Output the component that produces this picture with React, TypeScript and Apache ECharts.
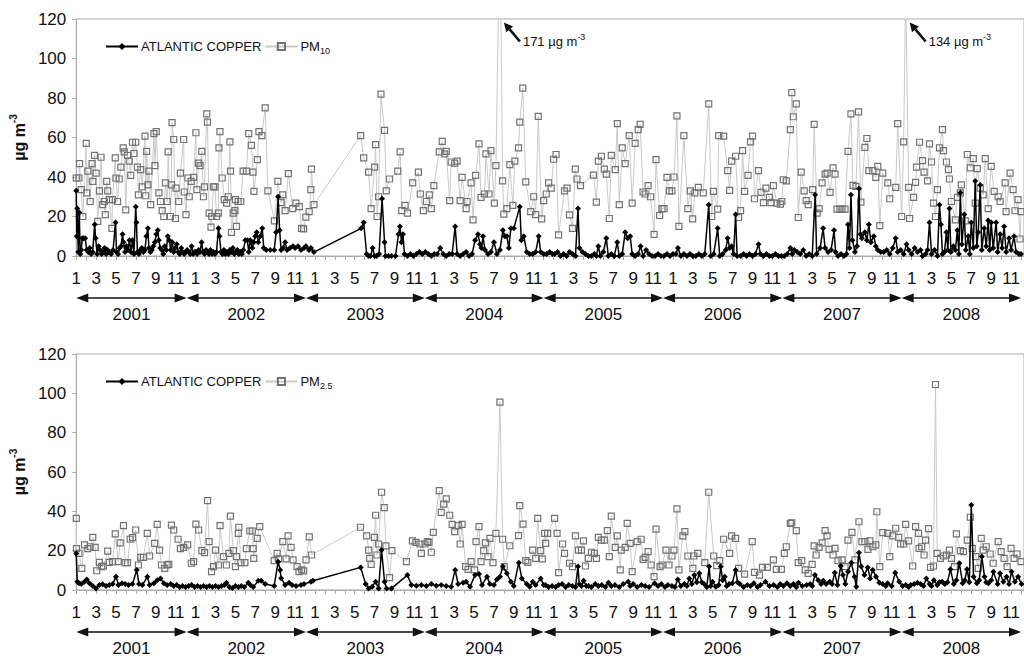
import React, { useEffect, useRef } from "react";
import * as echarts from "echarts";

// x = month index, 0 = January 2001 (fractional = sampling day inside the month)
const pm10: number[][] = [
  [0.0, 39.5], [0.27, 39.5], [0.33, 46.8], [0.5, 33.6], [0.66, 20], [1.0, 57], [1.06, 32], [1.16, 43], [1.4, 27.6], [1.59, 46.8],
  [1.66, 37.8], [1.83, 51], [1.99, 42], [2.16, 17.5], [2.33, 33], [2.49, 50], [2.66, 26], [2.82, 27.6], [2.92, 21], [3.06, 37.8],
  [3.16, 33], [3.32, 28.5], [3.59, 14], [3.65, 28.5], [3.92, 49.7], [3.99, 39.5], [4.15, 27.6], [4.32, 39], [4.49, 45], [4.72, 54.7],
  [4.82, 52.7], [4.98, 23.4], [5.15, 51], [5.32, 48], [5.48, 40.8], [5.65, 57.6], [5.81, 51.9], [5.98, 57.6], [6.15, 45], [6.25, 31],
  [6.48, 43.7], [6.64, 35], [6.91, 60.7], [6.98, 30.5], [7.08, 53], [7.21, 36], [7.31, 43], [7.48, 26], [7.81, 62], [7.91, 45.8],
  [8.04, 63], [8.31, 32], [8.47, 27.6], [8.64, 23], [8.8, 20], [8.97, 37], [9.14, 27.6], [9.24, 52.7], [9.47, 20], [9.57, 36],
  [9.63, 67.5], [9.8, 59], [9.97, 19], [10.03, 34.4], [10.3, 27.6], [10.47, 42], [10.8, 59], [10.86, 32.4], [11.03, 21], [11.23, 39.5],
  [11.36, 30], [11.56, 37.8], [11.79, 39.8], [12.03, 62.4], [12.13, 33.6], [12.29, 47], [12.46, 45.8], [12.62, 53], [12.79, 30], [12.89, 35],
  [13.12, 72], [13.19, 67.8], [13.36, 21.7], [13.55, 14.6], [13.62, 20], [13.79, 35], [13.95, 35], [14.12, 20], [14.29, 21.7], [14.35, 54.7],
  [14.45, 63], [14.68, 39.5], [14.88, 28.5], [15.12, 26.8], [15.28, 30], [15.45, 57.8], [15.51, 43], [15.61, 12], [15.78, 21.7], [15.95, 23],
  [16.01, 28.5], [16.11, 15], [16.28, 27.6], [16.54, 27.6], [16.78, 43], [17.11, 43], [17.34, 62], [17.61, 56], [17.77, 42.5], [17.87, 32.7],
  [18.21, 48.8], [18.37, 63], [18.67, 61], [19.0, 75], [19.27, 33], [19.93, 17.8], [20.27, 37.8], [20.6, 27], [20.76, 31], [21.0, 23],
  [21.33, 41.7], [21.76, 24], [22.09, 26.8], [22.43, 25], [22.66, 14], [22.86, 13.7], [23.09, 19.7], [23.42, 22.5], [23.59, 33.6], [23.65, 44],
  [23.9, 26],
  [28.6, 61], [28.9, 49.7], [29.4, 42.5], [29.65, 24], [30.0, 45], [30.1, 56.4], [30.25, 20], [30.4, 30], [30.64, 82], [31.0, 63.6],
  [31.17, 33], [31.5, 39], [32.33, 43], [32.57, 52.7], [32.73, 23], [33.06, 25.6], [33.3, 21.7], [33.83, 37], [34.4, 42.5], [34.6, 31.4],
  [34.9, 23], [35.2, 27.6], [35.5, 31], [35.7, 24], [35.96, 35.6], [36.5, 52.7], [36.8, 58], [37.05, 51.7], [37.2, 53], [37.55, 28],
  [37.7, 47.6], [38.05, 47], [38.3, 48], [38.6, 28], [38.8, 39.8], [39.2, 24], [39.3, 27.6], [39.7, 37], [39.9, 18.3], [40.15, 40.8],
  [40.5, 56.8], [40.7, 29.7], [41.05, 31.4], [41.2, 51.7], [41.5, 31.4], [41.7, 53.4], [42.04, 26.8], [42.2, 45.8], [42.6, 171], [42.87, 38],
  [43.0, 21.2], [43.3, 24], [43.6, 46.3], [43.9, 25.6], [44.1, 48], [44.47, 54.7], [44.6, 67.8], [44.9, 85], [45.2, 37.5], [45.7, 22.5],
  [46.0, 30], [46.2, 21], [46.46, 70.7], [46.8, 18.8], [47.0, 28], [47.26, 31.4], [47.5, 37], [47.76, 34.4], [48.0, 49], [48.25, 51.4],
  [48.5, 10.7], [49.1, 33], [49.35, 34.4], [49.6, 20.8], [49.9, 14], [50.18, 44], [50.35, 39], [50.7, 35.6], [52.0, 41], [52.3, 27.3],
  [52.5, 48], [52.8, 50.5], [53.1, 44], [53.3, 41.5], [53.6, 19], [53.8, 51], [54.2, 43.7], [54.4, 67], [54.6, 26], [54.9, 54.7],
  [55.2, 46.8], [55.6, 61], [55.9, 26.8], [56.2, 57], [56.5, 64], [56.7, 66.6], [56.99, 32.4], [57.2, 31.4], [57.5, 35.6], [57.75, 30],
  [58.1, 11], [58.3, 48.8], [58.66, 20.5], [58.9, 24], [59.1, 24], [59.4, 39.8], [59.65, 33], [59.9, 33], [60.1, 40], [60.4, 71],
  [60.6, 15], [61.1, 61], [61.5, 24], [61.75, 33], [61.98, 18.8], [62.2, 32], [62.55, 34.7], [63.05, 32], [63.6, 77], [63.9, 20],
  [64.07, 32.7], [64.5, 23.7], [64.6, 61], [65.1, 60.7], [65.5, 43.2], [65.7, 33.2], [65.9, 48], [66.3, 50.5], [66.6, 19.5], [66.8, 23],
  [67.0, 53.4], [67.2, 32.7], [67.55, 40.8], [67.8, 57.8], [68.0, 60.7], [68.2, 29], [68.6, 43.2], [68.85, 32.2], [69.1, 27], [69.35, 34.4],
  [69.7, 29.7], [69.86, 27], [70.1, 35.6], [70.45, 26.8], [70.8, 26.3], [70.95, 27.6], [71.1, 38.6], [71.4, 38], [71.8, 64], [71.95, 82.7],
  [72.1, 70.5], [72.4, 77], [72.6, 19.5], [72.9, 42.5], [73.2, 33], [73.4, 28], [73.6, 26], [74.05, 33.6], [74.2, 66.6], [74.5, 21.7],
  [74.7, 24], [75.0, 37], [75.3, 41.5], [75.5, 42], [75.8, 32.2], [76.1, 44.6], [76.3, 41.5], [76.5, 23.7], [76.8, 23.7], [77.0, 23.7],
  [77.3, 23.7], [77.6, 53], [77.9, 72], [78.1, 35.8], [78.4, 35.3], [78.66, 73], [78.9, 27.3], [79.3, 55], [79.5, 59.5], [79.7, 43.2],
  [80.1, 43.2], [80.4, 39.8], [80.6, 45.4], [80.8, 15.4], [81.1, 42], [81.6, 37], [81.8, 29], [82.4, 34.7], [82.6, 67], [83.0, 20],
  [83.2, 57.8], [83.4, 134], [83.7, 34.7], [83.8, 19], [84.2, 29.7], [84.4, 37.3], [84.5, 45], [84.8, 57.6], [85.1, 48.3], [85.25, 42.5],
  [85.6, 38], [85.8, 56.8], [86.0, 47.6], [86.2, 26.8], [86.4, 20], [86.6, 33.6], [86.8, 54.7], [87.1, 64], [87.2, 53.4], [87.5, 47.6],
  [87.7, 43.7], [87.8, 39], [88.0, 27.6], [88.4, 18.3], [88.6, 29.7], [88.9, 32], [89.0, 36], [89.4, 17.8], [89.6, 51.4], [89.9, 44.6],
  [90.2, 49.3], [90.4, 26.8], [90.6, 44.2], [90.9, 34.4], [91.2, 31], [91.4, 49.3], [91.7, 24], [92.0, 45.4], [92.3, 32.7], [92.7, 30],
  [92.9, 27.6], [93.4, 37], [93.5, 22.5], [93.9, 42], [94.2, 33.6], [94.4, 22.9], [94.7, 28.5], [94.9, 8.6], [95.0, 22.5],
];

const copperPm10Days: number[][] = [
  [0, 33], [0.05, 10], [0.1, 24], [0.2, 2], [0.3, 22], [0.4, 1], [0.5, 3], [0.6, 9], [0.75, 9], [0.9, 9],
  [1.05, 3], [1.2, 2], [1.35, 4], [1.5, 1], [1.65, 2], [1.85, 16], [1.95, 9], [2.1, 1], [2.25, 5], [2.4, 3],
  [2.55, 1], [2.7, 2], [2.85, 4], [3.0, 1], [3.15, 3], [3.3, 2], [3.5, 1], [3.7, 3], [3.95, 17], [4.05, 2],
  [4.2, 1], [4.35, 4], [4.5, 5], [4.65, 11], [4.75, 7], [4.9, 2], [5.05, 5], [5.2, 3], [5.35, 8], [5.5, 2],
  [5.65, 8], [5.8, 1], [5.98, 25], [6.05, 17], [6.15, 2], [6.3, 1], [6.45, 3], [6.6, 4], [6.75, 2], [6.9, 3],
  [7.05, 10], [7.2, 14], [7.3, 4], [7.45, 2], [7.6, 3], [7.75, 5], [7.9, 7], [8.05, 11], [8.2, 13], [8.3, 8],
  [8.45, 4], [8.6, 3], [8.75, 1], [8.9, 5], [9.05, 3], [9.2, 10], [9.35, 8], [9.5, 3], [9.65, 7], [9.8, 2],
  [9.95, 4], [10.1, 6], [10.25, 2], [10.4, 1], [10.55, 4], [10.7, 2], [10.85, 1], [11.0, 2], [11.15, 3], [11.3, 2],
  [11.45, 1], [11.6, 5], [11.75, 1], [11.9, 2], [12.0, 2], [12.15, 1], [12.3, 3], [12.45, 2], [12.6, 7], [12.75, 2],
  [12.9, 1], [13.05, 3], [13.2, 2], [13.35, 1], [13.5, 3], [13.65, 1], [13.8, 2], [13.95, 1], [14.1, 2], [14.3, 14],
  [14.4, 10], [14.55, 2], [14.7, 1], [14.85, 3], [15.0, 1], [15.15, 2], [15.3, 1], [15.45, 3], [15.6, 2], [15.75, 4],
  [15.9, 1], [16.05, 2], [16.2, 3], [16.35, 1], [16.5, 2], [16.65, 1], [16.8, 3], [17.0, 8], [17.2, 8], [17.35, 2],
  [17.5, 8], [17.7, 4], [17.85, 7], [18.0, 10], [18.15, 12], [18.3, 7], [18.5, 10], [18.7, 14], [18.85, 4], [19.1, 3],
  [19.5, 3], [19.9, 3], [20.1, 12], [20.3, 30], [20.45, 13], [20.6, 3], [20.8, 4], [21.0, 7], [21.2, 3], [21.5, 4],
  [21.8, 5], [22.0, 4], [22.3, 5], [22.6, 3], [22.9, 4], [23.1, 5], [23.4, 3], [23.6, 4], [23.9, 2],
  [28.65, 14], [28.9, 17], [29.2, 1], [29.4, 0], [29.6, 0], [29.8, 4], [30.0, 0], [30.2, 0], [30.45, 1], [30.75, 29],
  [31.0, 7], [31.1, 0], [31.4, 0], [31.7, 0], [32.1, 0], [32.4, 11], [32.55, 15], [32.7, 7], [32.85, 11], [33.0, 1],
  [33.3, 0], [33.6, 1], [33.9, 0], [34.2, 1], [34.5, 2], [34.8, 1], [35.1, 2], [35.4, 1], [35.7, 0], [36.0, 1],
  [36.3, 1], [36.6, 4], [36.9, 1], [37.2, 0], [37.5, 1], [37.8, 1], [38.1, 15], [38.3, 1], [38.6, 0], [38.9, 1],
  [39.2, 2], [39.5, 0], [39.8, 1], [40.1, 8], [40.4, 11], [40.6, 6], [40.75, 4], [40.9, 10], [41.1, 3], [41.4, 1],
  [41.7, 2], [42.0, 7], [42.3, 1], [42.6, 3], [42.9, 13], [43.1, 10], [43.3, 10], [43.5, 4], [43.7, 14], [44.0, 14],
  [44.6, 25], [44.75, 8], [45.0, 10], [45.3, 2], [45.6, 1], [45.9, 1], [46.2, 2], [46.5, 10], [46.7, 2], [47.0, 1],
  [47.3, 1], [47.6, 2], [47.9, 1], [48.1, 1], [48.4, 2], [48.7, 0], [49.0, 1], [49.3, 0], [49.6, 2], [49.9, 1],
  [50.2, 0], [50.45, 24], [50.6, 4], [50.9, 2], [51.2, 1], [51.5, 0], [51.8, 0], [52.1, 1], [52.3, 0], [52.5, 5],
  [52.7, 0], [53.0, 2], [53.3, 9], [53.5, 0], [53.8, 1], [54.1, 0], [54.4, 7], [54.6, 0], [54.9, 1], [55.2, 12],
  [55.45, 9], [55.7, 10], [55.9, 1], [56.2, 0], [56.5, 1], [56.75, 5], [57.0, 0], [57.3, 3], [57.6, 1], [57.9, 0],
  [58.2, 0], [58.5, 1], [58.8, 0], [59.1, 0], [59.4, 1], [59.7, 0], [60.0, 1], [60.3, 1], [60.5, 4], [60.8, 0],
  [61.1, 1], [61.4, 0], [61.7, 1], [62.0, 0], [62.3, 0], [62.6, 1], [62.9, 0], [63.2, 1], [63.6, 26], [63.8, 0],
  [64.1, 1], [64.5, 14], [64.7, 0], [65.0, 1], [65.3, 3], [65.5, 9], [65.7, 4], [65.9, 5], [66.1, 1], [66.3, 21],
  [66.45, 0], [66.8, 0], [67.1, 1], [67.4, 0], [67.7, 1], [68.0, 0], [68.3, 1], [68.6, 6], [68.8, 1], [69.1, 0],
  [69.4, 1], [69.7, 0], [70.0, 0], [70.3, 1], [70.6, 0], [70.9, 0], [71.2, 0], [71.5, 1], [71.8, 4], [72.0, 1],
  [72.2, 3], [72.5, 2], [72.8, 1], [73.1, 3], [73.4, 0], [73.7, 1], [74.0, 0], [74.3, 31], [74.45, 1], [74.8, 4],
  [75.1, 14], [75.3, 4], [75.6, 2], [75.9, 3], [76.2, 13], [76.35, 2], [76.6, 0], [76.9, 1], [77.2, 0], [77.45, 1],
  [77.6, 16], [77.75, 4], [77.9, 31], [78.05, 8], [78.3, 2], [78.5, 5], [78.7, 34], [78.85, 11], [79.0, 9], [79.3, 12],
  [79.5, 8], [79.7, 16], [79.9, 7], [80.2, 10], [80.4, 5], [80.6, 3], [80.9, 2], [81.2, 2], [81.5, 3], [81.8, 1],
  [82.1, 4], [82.4, 9], [82.6, 2], [82.9, 3], [83.2, 1], [83.5, 6], [83.7, 3], [84.0, 1], [84.3, 4], [84.6, 2],
  [84.9, 3], [85.1, 0], [85.4, 1], [85.6, 3], [85.8, 17], [86.0, 1], [86.3, 3], [86.6, 0], [86.8, 26], [86.95, 16],
  [87.1, 1], [87.3, 2], [87.5, 12], [87.65, 3], [87.8, 24], [87.95, 2], [88.2, 5], [88.4, 3], [88.6, 13], [88.75, 1],
  [88.9, 32], [89.05, 6], [89.3, 21], [89.45, 3], [89.7, 10], [89.85, 1], [90.0, 17], [90.2, 4], [90.4, 38], [90.55, 5],
  [90.7, 12], [90.9, 36], [91.05, 3], [91.3, 14], [91.5, 5], [91.7, 18], [91.85, 3], [92.0, 17], [92.2, 4], [92.5, 17],
  [92.65, 2], [92.9, 11], [93.1, 4], [93.3, 15], [93.5, 2], [93.8, 9], [94.0, 3], [94.3, 10], [94.5, 2], [94.8, 1],
  [95.0, 1],
];

const pm25: number[][] = [
  [0, 36.4], [0.02, 21], [0.27, 18.6], [0.56, 11], [0.83, 22.9], [1.16, 21], [1.4, 22], [1.66, 26.8], [1.9, 21.7], [2.06, 9.8],
  [2.33, 14], [2.56, 11.9], [2.73, 12.2], [3.16, 19.8], [3.32, 14], [3.66, 14.4], [3.92, 28.5], [4.22, 14.4], [4.42, 24], [4.75, 32.7],
  [4.92, 13.9], [5.15, 13.9], [5.42, 25.8], [5.65, 26.6], [5.98, 30.5], [6.25, 12.7], [6.48, 16.6], [6.75, 16.6], [7.14, 28.8], [7.38, 17.3],
  [7.88, 23.7], [8.14, 33.4], [8.37, 20.3], [8.57, 12.7], [8.9, 11], [9.14, 12.7], [9.3, 13], [9.57, 33], [9.8, 30.5], [10.24, 25.8],
  [10.47, 21], [10.8, 21.7], [11.2, 22.9], [11.57, 13.6], [11.8, 14.4], [12.03, 33.5], [12.3, 30.5], [12.63, 20], [12.9, 19], [13.2, 45.4],
  [13.36, 24.6], [13.6, 9.3], [13.8, 11.9], [14.0, 20.3], [14.3, 12.7], [14.46, 32.7], [14.8, 17], [15.1, 12.7], [15.35, 18.6], [15.5, 37.6],
  [15.8, 20], [16.0, 11.9], [16.1, 17], [16.3, 28.8], [16.35, 31.9], [16.55, 13.9], [16.95, 13.9], [17.1, 21], [17.45, 30], [17.7, 30],
  [17.8, 21], [17.85, 16.1], [18.2, 26.3], [18.45, 32.2], [19.9, 14.9], [20.2, 18.6], [20.35, 15.8], [20.77, 24.6], [21.1, 15.8], [21.3, 27.5],
  [21.6, 21.7], [21.8, 15.3], [22.2, 11.9], [22.4, 9.3], [22.66, 10.2], [22.87, 9.7], [23.1, 15.3], [23.43, 27], [23.66, 17.8],
  [28.58, 31.9], [29.2, 27.5], [29.4, 20.3], [29.5, 16.1], [29.65, 13], [29.98, 26.8], [30.1, 38], [30.24, 17.8], [30.4, 23.4], [30.7, 49.7],
  [30.97, 41.9], [31.14, 22.4], [31.5, 6.3], [31.74, 20], [33.2, 14.4], [33.8, 25], [34.16, 24.2], [34.56, 23.4], [34.7, 18.6], [35.06, 23.4],
  [35.3, 24.6], [35.46, 24.2], [35.7, 19.2], [35.9, 29.3], [36.5, 50.5], [36.7, 39.5], [36.95, 43.7], [37.2, 46.3], [37.55, 38], [37.8, 33.4],
  [38.05, 29.7], [38.4, 32.7], [38.6, 23.4], [38.8, 33.4], [39.15, 11.9], [39.4, 10.5], [39.7, 14.4], [40.05, 10.2], [40.2, 24.6], [40.5, 32.2],
  [40.7, 14.4], [40.97, 20], [41.14, 24], [41.4, 17], [41.6, 26.3], [41.9, 13.9], [42.2, 28.8], [42.6, 95.5], [42.87, 25.8], [43.04, 11.9],
  [43.6, 22.5], [44.47, 27.6], [44.6, 42.9], [44.93, 33.5], [45.2, 14.9], [45.4, 14], [45.9, 20.3], [46.2, 16.1], [46.4, 36.4], [46.7, 20],
  [46.86, 15.8], [47.1, 28.8], [47.2, 23.7], [47.4, 28.8], [48.1, 36.4], [48.35, 28.8], [48.5, 8.8], [48.9, 23.4], [49.1, 18.6], [49.6, 13.6],
  [49.9, 11.9], [50.2, 27.5], [50.5, 20.3], [50.8, 20.3], [51.0, 25], [51.2, 12.2], [51.5, 16.1], [51.8, 19.2], [52.1, 18.6], [52.3, 16.1],
  [52.5, 26.8], [52.8, 25.4], [53.1, 25.4], [53.4, 30.2], [53.6, 17], [53.8, 37.6], [54.2, 21.7], [54.4, 27.5], [54.7, 10.2], [54.8, 20.3],
  [55.2, 21.7], [55.4, 33.9], [55.7, 23.7], [55.9, 9.3], [56.4, 24.6], [56.8, 25.8], [57.0, 15.6], [57.2, 16.6], [57.5, 19.5], [57.8, 12.7],
  [58.1, 6.8], [58.3, 31], [58.7, 11.9], [58.9, 12.7], [59.3, 20.3], [59.6, 12.7], [59.9, 17.3], [60.1, 20.3], [60.4, 41.2], [60.6, 10.2],
  [61.0, 27.5], [61.2, 29.7], [61.5, 17.3], [62.0, 11], [62.1, 17.3], [62.5, 18.6], [63.2, 13.9], [63.6, 49.7], [64.1, 17.3], [64.4, 12.4],
  [64.7, 14.9], [65.1, 25.8], [65.7, 18.6], [65.9, 27.5], [66.3, 26.3], [66.6, 11], [67.2, 8.1], [67.97, 24.6], [68.2, 9], [68.7, 7.6],
  [69.0, 11.5], [69.5, 11.5], [70.1, 15.3], [70.4, 10.5], [70.9, 10.5], [71.2, 18.6], [71.4, 22], [71.8, 33.9], [71.95, 34.2], [72.4, 30.2],
  [72.6, 13.9], [72.95, 14.9], [73.3, 10.2], [73.6, 8.5], [74.0, 13], [74.2, 22.4], [74.4, 17.8], [74.7, 21.7], [75.0, 24], [75.3, 30.2],
  [75.5, 27.5], [75.7, 20.7], [76.1, 17.8], [76.3, 21.2], [76.6, 14.9], [77.0, 15.3], [77.3, 11.9], [77.6, 25.4], [78.0, 29.3], [78.3, 15.3],
  [78.7, 34.7], [79.0, 24.6], [79.3, 24.6], [79.6, 20.7], [79.8, 25], [80.1, 22], [80.4, 22.9], [80.5, 39.8], [80.8, 11.9], [81.1, 29.2],
  [81.6, 28.8], [81.8, 17], [82.1, 27.5], [82.4, 31.4], [82.7, 26.8], [82.9, 23.4], [83.2, 23.4], [83.4, 33.4], [83.7, 25], [84.1, 12.2],
  [84.4, 32.2], [84.7, 28.8], [84.75, 21.2], [85.0, 22], [85.25, 17.8], [85.4, 25.4], [85.7, 31.2], [85.9, 11.5], [86.2, 12.2], [86.4, 104.5],
  [86.57, 18.6], [86.9, 16.1], [87.2, 17.3], [87.5, 17.8], [87.8, 20.3], [88.0, 16.1], [88.3, 11.9], [88.5, 28.5], [88.9, 20], [89.2, 19.5],
  [89.6, 25.4], [89.9, 37], [90.1, 21.2], [90.45, 17], [90.7, 11], [91.0, 26.3], [91.2, 20.3], [91.5, 22], [91.9, 18.3], [92.2, 13.6],
  [92.7, 24.6], [93.0, 19.5], [93.3, 16.1], [93.6, 11.9], [94.0, 21.2], [94.3, 16.1], [94.6, 18.3], [95.0, 14.4],
];

const copperPm25Days: number[][] = [
  [0, 18.6], [0.1, 4.2], [0.27, 3.4], [0.5, 3], [0.83, 4.2], [1.06, 5.4], [1.33, 3.4], [1.66, 2], [1.99, 0.8], [2.33, 2.5],
  [2.66, 2.9], [2.99, 2], [3.32, 2.5], [3.66, 3], [3.99, 6.8], [4.25, 2.5], [4.59, 3.4], [4.92, 3], [5.25, 2.5], [5.65, 3],
  [6.08, 10.2], [6.31, 3], [6.65, 2.5], [7.15, 6.8], [7.38, 2.5], [7.81, 3.4], [8.14, 5], [8.47, 5.9], [8.81, 3.4], [9.14, 2.5],
  [9.5, 3], [9.8, 2], [10.1, 2.5], [10.4, 1.5], [10.7, 2], [11.0, 1.5], [11.3, 2], [11.6, 2.5], [11.9, 1.5], [12.2, 2],
  [12.5, 1.5], [12.8, 2], [13.1, 1.5], [13.4, 2], [13.7, 1.5], [14.0, 2], [14.3, 1.5], [14.6, 2], [14.9, 2.5], [15.1, 3.7],
  [15.4, 1.5], [15.7, 1], [16.0, 2], [16.3, 1.5], [16.6, 2], [16.9, 1.5], [17.3, 3.7], [17.5, 2.5], [17.8, 1.5], [18.3, 4.7],
  [18.6, 4.7], [19.0, 3], [19.9, 2], [20.3, 14.4], [20.5, 10.2], [20.6, 6], [21.0, 2.5], [21.4, 3.7], [21.7, 2.5], [22.1, 2],
  [22.6, 2.5], [22.9, 3], [23.6, 4.2], [23.8, 4.7],
  [28.6, 11.5], [29.1, 3], [29.4, 0.8], [29.75, 1.7], [30.1, 4.2], [30.4, 0.8], [30.7, 20.3], [31.0, 4.2], [31.2, 0.8], [31.7, 0.8],
  [33.3, 7.6], [33.7, 2.5], [34.2, 2.2], [34.7, 2.5], [35.2, 2], [35.7, 3], [36.2, 2.2], [36.7, 2.5], [37.2, 2], [37.7, 1.7],
  [38.1, 10.2], [38.4, 3], [38.9, 3.7], [39.2, 4.2], [39.6, 1.7], [40.1, 7.6], [40.5, 8.1], [40.8, 2.5], [41.3, 6.8], [41.6, 3],
  [42.0, 2.5], [42.3, 5.4], [42.6, 6.8], [42.9, 11.9], [43.3, 8.5], [43.7, 4.2], [44.0, 2], [44.5, 13.9], [44.8, 5.9], [45.3, 3],
  [45.6, 1.7], [45.9, 4.2], [46.2, 2.5], [46.7, 5.9], [47.0, 2.5], [47.19, 2.5], [47.5, 1.5], [47.85, 2], [48.2, 1.5], [48.5, 2.5],
  [48.86, 3], [49.2, 1.5], [49.52, 2.5], [49.9, 2], [50.2, 1.5], [50.45, 11.9], [50.58, 3], [50.8, 2], [51.01, 4.7], [51.3, 2],
  [51.51, 2], [51.8, 1.5], [52.18, 3], [52.5, 2], [52.84, 2.5], [53.2, 1.5], [53.51, 3.7], [53.8, 2], [54.17, 2.5], [54.6, 1.5],
  [55.0, 3], [55.5, 4.2], [55.7, 2], [56.0, 3], [56.4, 1.5], [56.83, 2.5], [57.2, 2], [57.6, 1.5], [58.16, 3.4], [58.5, 2],
  [58.83, 3], [59.2, 1.5], [59.49, 2.5], [59.9, 2], [60.2, 1.5], [60.49, 5.4], [60.8, 2], [61.15, 3], [61.4, 2], [61.65, 5.9],
  [61.9, 3], [62.15, 7.6], [62.4, 4], [62.65, 8.5], [62.9, 4], [63.14, 3], [63.4, 1.5], [63.64, 11.9], [63.8, 2], [63.98, 4.2],
  [64.31, 1.7], [64.6, 2.5], [64.81, 11.9], [65.0, 5], [65.21, 6.8], [65.4, 2], [65.64, 3], [65.97, 3.4], [66.3, 10.2], [66.5, 4],
  [66.73, 3], [67.1, 1.5], [67.47, 2.5], [67.8, 2], [68.13, 3.4], [68.5, 1.5], [68.8, 2.5], [69.3, 4.2], [69.7, 2], [70.13, 2.5],
  [70.5, 1.5], [70.79, 3], [71.1, 2], [71.46, 3.4], [71.8, 2], [72.12, 3], [72.4, 1.5], [72.62, 3.7], [73.0, 2], [73.45, 2.5],
  [73.8, 3], [74.0, 2], [74.28, 7.6], [74.61, 5], [74.9, 3], [75.11, 4.7], [75.4, 3], [75.77, 4.2], [76.0, 3], [76.27, 8.8],
  [76.54, 2.5], [76.87, 12.2], [77.1, 7.6], [77.33, 3], [77.6, 9.3], [77.93, 13.9], [78.26, 6.8], [78.43, 1.7], [78.7, 19], [78.93, 11.9],
  [79.26, 7.6], [79.59, 11.5], [79.83, 5.9], [80.09, 10.2], [80.42, 6.8], [80.76, 3.7], [81.09, 3], [81.4, 2], [81.59, 3.4], [82.0, 2],
  [82.35, 8.8], [82.75, 4.2], [83.1, 2], [83.42, 2.5], [83.7, 1.5], [83.91, 2.5], [84.25, 3], [84.58, 3.7], [84.91, 3], [85.2, 2],
  [85.48, 5.9], [85.81, 3], [86.0, 2], [86.24, 5], [86.58, 2.5], [86.8, 4], [87.07, 4.2], [87.34, 3], [87.6, 4], [87.9, 10.5],
  [88.24, 3], [88.5, 5], [88.8, 13.6], [89.13, 3.4], [89.35, 5], [89.57, 10.5], [89.8, 4], [90.0, 43.2], [90.23, 6.8], [90.56, 3.4],
  [90.8, 5], [91.06, 17], [91.33, 6.8], [91.5, 4], [91.72, 3.4], [92.0, 5], [92.22, 9.3], [92.65, 3], [92.89, 8.5], [93.22, 4.2],
  [93.55, 6.8], [93.8, 3], [94.05, 9.3], [94.38, 4.2], [94.71, 6.8], [95.05, 3],
];

const years = ["2001", "2002", "2003", "2004", "2005", "2006", "2007", "2008"];
const yearEdges = [0, 11.1, 23.1, 35.05, 47.0, 59.0, 71.0, 83.0, 95.0];
const monthNames = ["1", "2", "3", "4", "5", "6", "7", "8", "9", "10", "11", "12"];
const yMin = 0;
const yMax = 120;
const yStep = 20;
const xMax = 95.3;

const FONT = "'Liberation Sans', Arial, Helvetica, sans-serif";

export default function App() {
  const ref = useRef<HTMLDivElement>(null);

  useEffect(() => {
    if (!ref.current) return;
    const chart = echarts.init(ref.current, undefined, { renderer: "svg" });

    const grids = [
      { left: 70, top: 19, width: 956, height: 237 },
      { left: 70, top: 354, width: 956, height: 236 },
    ];
    const axisGray = "#ababab";

    const xAxes = grids.map((_, gi) => ({
      type: "value",
      gridIndex: gi,
      min: 0,
      max: xMax,
      interval: 2,
      axisLine: { show: true, lineStyle: { color: axisGray, width: 1 } },
      axisTick: { show: true, length: 4, lineStyle: { color: axisGray } },
      minorTick: { show: true, splitNumber: 2, length: 4, lineStyle: { color: axisGray } },
      splitLine: { show: false },
      axisLabel: {
        show: true,
        fontSize: 17,
        fontFamily: FONT,
        color: "#111",
        margin: 14,
        showMaxLabel: false,
        formatter: (v: number) =>
          Math.abs(v - Math.round(v)) < 1e-6 ? monthNames[Math.round(v) % 12] : "",
      },
    }));

    const yAxes = grids.map((_, gi) => ({
      type: "value",
      gridIndex: gi,
      min: yMin,
      max: yMax,
      interval: yStep,
      name: "{a|µg m}{b|-3}",
      nameLocation: "middle",
      nameRotate: 90,
      nameGap: 38,
      nameTextStyle: {
        fontFamily: FONT,
        fontWeight: "bold",
        color: "#111",
        rich: {
          a: { fontSize: 16, fontWeight: "bold", fontFamily: FONT, color: "#111", lineHeight: 22 },
          b: { fontSize: 10, fontWeight: "bold", fontFamily: FONT, color: "#111", verticalAlign: "top", lineHeight: 12 },
        },
      },
      axisLine: { show: true, lineStyle: { color: axisGray } },
      axisTick: { show: true, length: 4, lineStyle: { color: axisGray } },
      splitLine: { show: false },
      axisLabel: { fontSize: 17, fontFamily: FONT, color: "#111", margin: 10 },
    }));

    const pmSeries = (name: string, data: number[][], gi: number) => ({
      type: "line",
      name,
      xAxisIndex: gi,
      yAxisIndex: gi,
      data,
      symbol: "rect",
      symbolSize: 6,
      showSymbol: true,
      showAllSymbol: true,
      clip: true,
      z: 2,
      lineStyle: { color: "#c9c9c9", width: 1 },
      itemStyle: { color: "rgba(255,255,255,0)", borderColor: "#727272", borderWidth: 1.2 },
    });
    const copperSeries = (data: number[][], gi: number) => ({
      type: "line",
      name: "ATLANTIC COPPER",
      xAxisIndex: gi,
      yAxisIndex: gi,
      data,
      symbol: "diamond",
      symbolSize: 6,
      showSymbol: true,
      showAllSymbol: true,
      clip: true,
      z: 3,
      lineStyle: { color: "#000", width: 1.5 },
      itemStyle: { color: "#000" },
    });

    const legendFor = (gi: number, pmName: string) => ({
      show: true,
      left: 100,
      top: grids[gi].top + 16,
      orient: "horizontal",
      itemWidth: 32,
      itemHeight: 9,
      itemGap: 3,
      data: ["ATLANTIC COPPER", pmName],
      textStyle: {
        fontSize: 13,
        fontFamily: FONT,
        color: "#111",
        padding: [0, 0, 0, -2],
        rich: {
          s: { fontSize: 9, fontFamily: FONT, color: "#111", verticalAlign: "bottom", lineHeight: 18 },
          m: { fontSize: 13, fontFamily: FONT, color: "#111", lineHeight: 18 },
        },
      },
      formatter: (n: string) => (n.startsWith("PM") ? "{m|PM}{s|" + n.slice(2) + "}" : n),
    });

    chart.setOption({
      animation: false,
      backgroundColor: "#fff",
      grid: grids.map((g) => ({ ...g, show: true, borderColor: axisGray, borderWidth: 1, backgroundColor: "transparent" })),
      xAxis: xAxes,
      yAxis: yAxes,
      legend: [legendFor(0, "PM10"), legendFor(1, "PM2.5")],
      series: [
        pmSeries("PM10", pm10, 0),
        copperSeries(copperPm10Days, 0),
        pmSeries("PM2.5", pm25, 1),
        copperSeries(copperPm25Days, 1),
      ],
    });

    // Year arrows, year labels and off-scale annotations
    const els: any[] = [];
    const px = (gi: number, x: number, y: number) =>
      chart.convertToPixel({ gridIndex: gi } as any, [x, y]) as unknown as number[];

    grids.forEach((_, gi) => {
      const axisY = px(gi, 0, yMin)[1];
      const ay = axisY + 42;
      for (let i = 0; i < years.length; i++) {
        const x1 = px(gi, yearEdges[i], yMin)[0];
        const x2 = px(gi, yearEdges[i + 1], yMin)[0];
        els.push({
          type: "line",
          shape: { x1: x1 + 6, y1: ay, x2: x2 - 6, y2: ay },
          style: { stroke: "#111", lineWidth: 1.5 },
          silent: true,
        });
        els.push({
          type: "polygon",
          shape: { points: [[x1, ay], [x1 + 12, ay - 4.5], [x1 + 12, ay + 4.5]] },
          style: { fill: "#111" },
          silent: true,
        });
        els.push({
          type: "polygon",
          shape: { points: [[x2, ay], [x2 - 12, ay - 4.5], [x2 - 12, ay + 4.5]] },
          style: { fill: "#111" },
          silent: true,
        });
        els.push({
          type: "text",
          x: (x1 + x2) / 2,
          y: axisY + 58,
          style: {
            text: years[i],
            fontSize: 17,
            fontFamily: FONT,
            fill: "#111",
            align: "center",
            verticalAlign: "middle",
          },
          silent: true,
        });
      }
    });

    pm10
      .filter((p) => p[1] > yMax)
      .forEach((p) => {
        const top = px(0, p[0], yMax);
        const tip = [top[0] + 4, top[1] + 3.5];
        const tail = [tip[0] + 16, tip[1] + 19];
        const dx = tip[0] - tail[0];
        const dy = tip[1] - tail[1];
        const len = Math.sqrt(dx * dx + dy * dy);
        const ux = dx / len;
        const uy = dy / len;
        const hl = 9;
        const hw = 4.5;
        const bx = tip[0] - ux * hl;
        const by = tip[1] - uy * hl;
        els.push({
          type: "line",
          shape: { x1: tail[0], y1: tail[1], x2: bx, y2: by },
          style: { stroke: "#111", lineWidth: 2.6 },
          silent: true,
        });
        els.push({
          type: "polygon",
          shape: {
            points: [
              [tip[0], tip[1]],
              [bx - uy * hw, by + ux * hw],
              [bx + uy * hw, by - ux * hw],
            ],
          },
          style: { fill: "#111" },
          silent: true,
        });
        els.push({
          type: "text",
          x: tail[0] + 3,
          y: top[1] + 22,
          style: {
            text: "{a|" + p[1] + " µg m}{b|-3}",
            fill: "#111",
            align: "left",
            verticalAlign: "middle",
            rich: {
              a: { fontSize: 13, fontFamily: FONT, fill: "#111", color: "#111", lineHeight: 18 },
              b: { fontSize: 9, fontFamily: FONT, fill: "#111", color: "#111", verticalAlign: "top", lineHeight: 10 },
            },
          },
          silent: true,
        });
      });

    chart.setOption({ graphic: els });

    return () => {
      chart.dispose();
    };
  }, []);

  return (
    <div
      ref={ref}
      style={{ position: "fixed", left: 0, top: 0, width: 1024, height: 658, background: "#fff" }}
    />
  );
}
